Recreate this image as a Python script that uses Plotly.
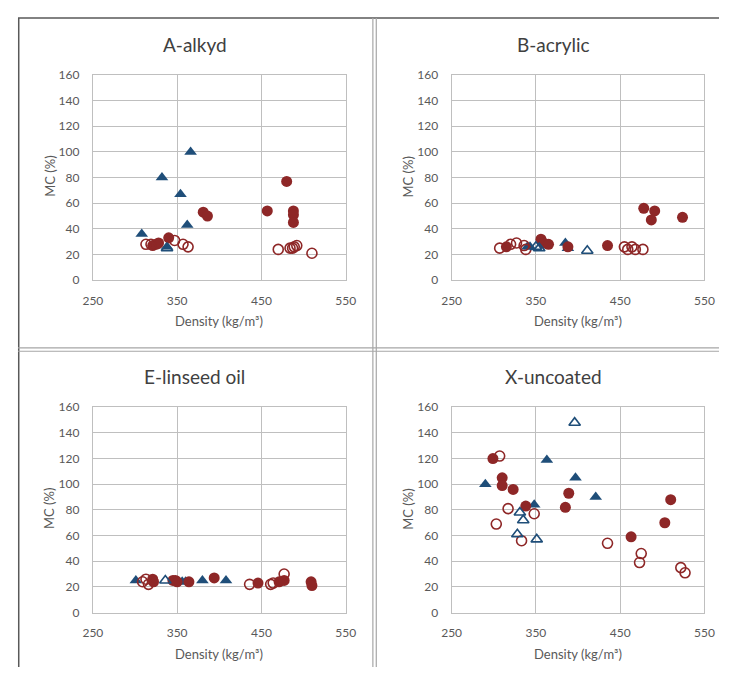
import plotly.graph_objects as go

# The page body has an 8px default margin, so the figure is sized/offset to fit.
OX, OY = 8, 8
W, H = 721, 666

panel_titles = ["A-alkyd", "B-acrylic", "E-linseed oil", "X-uncoated"]
x_ticks = [250, 350, 450, 550]
y_ticks = [0, 20, 40, 60, 80, 100, 120, 140, 160]
x_title = "Density (kg/m³)"
y_title = "MC (%)"

# Panel A - alkyd
A_red_filled_x = [321, 325, 328, 340, 381, 386, 457, 480, 488, 488, 488]
A_red_filled_y = [27, 28, 29, 33, 53, 50, 54, 77, 54, 51, 45]
A_red_open_x = [313, 319, 347, 357, 363, 470, 484, 487, 489, 492, 510]
A_red_open_y = [28, 28, 31, 28, 26, 24, 25, 25, 26, 27, 21]
A_blue_filled_x = [308, 324, 332, 338, 354, 362, 366]
A_blue_filled_y = [36, 27, 80, 26, 67, 43, 100]
A_blue_open_x = [338]
A_blue_open_y = [25]

# Panel B - acrylic
B_red_filled_x = [315, 356, 359, 365, 388, 435, 478, 491, 487, 524]
B_red_filled_y = [26, 32, 29, 28, 26, 27, 56, 54, 47, 49]
B_red_open_x = [307, 320, 327, 336, 338, 455, 459, 464, 468, 477]
B_red_open_y = [25, 28, 29, 27, 24, 26, 24, 26, 24, 24]
B_blue_filled_x = [340, 343, 385, 388]
B_blue_filled_y = [26, 26, 29, 25]
B_blue_open_x = [350, 354, 411]
B_blue_open_y = [26, 25, 23]

# Panel E - linseed oil
E_red_filled_x = [321, 322, 345, 348, 350, 364, 394, 446, 471, 477, 509, 510]
E_red_filled_y = [26, 24, 25, 25, 24, 24, 27, 23, 24, 25, 24, 21]
E_red_open_x = [309, 313, 316, 436, 461, 464, 477]
E_red_open_y = [24, 26, 22, 22, 22, 23, 30]
E_blue_filled_x = [301, 356, 360, 380, 408]
E_blue_filled_y = [25, 24, 24, 25, 25]
E_blue_open_x = [336]
E_blue_open_y = [25]

# Panel X - uncoated
X_red_filled_x = [299, 310, 310, 323, 338, 389, 385, 463, 503, 510]
X_red_filled_y = [120, 105, 99, 96, 83, 93, 82, 59, 70, 88]
X_red_open_x = [307, 317, 303, 348, 333, 435, 475, 473, 522, 527]
X_red_open_y = [122, 81, 69, 77, 56, 54, 46, 39, 35, 31]
X_blue_filled_x = [290, 363, 397, 421, 348]
X_blue_filled_y = [100, 119, 105, 90, 84]
X_blue_open_x = [396, 331, 335, 328, 351]
X_blue_open_y = [148, 78, 72, 61, 57]

panels = [
    (A_red_filled_x, A_red_filled_y, A_red_open_x, A_red_open_y,
     A_blue_filled_x, A_blue_filled_y, A_blue_open_x, A_blue_open_y),
    (B_red_filled_x, B_red_filled_y, B_red_open_x, B_red_open_y,
     B_blue_filled_x, B_blue_filled_y, B_blue_open_x, B_blue_open_y),
    (E_red_filled_x, E_red_filled_y, E_red_open_x, E_red_open_y,
     E_blue_filled_x, E_blue_filled_y, E_blue_open_x, E_blue_open_y),
    (X_red_filled_x, X_red_filled_y, X_red_open_x, X_red_open_y,
     X_blue_filled_x, X_blue_filled_y, X_blue_open_x, X_blue_open_y),
]

RED = "#8E2727"
BLUE = "#1F4E79"
GRID = "#BFBFBF"
TXT = "#595959"
FONT = "Lato, Carlito, 'Open Sans', sans-serif"


def px(x):
    return (x - OX) / W


def py(y):
    return 1 - (y - OY) / H


# plot-area boxes in page pixels (left, right, top, bottom)
boxes = [(85, 345, 68.3, 278.3), (454, 714, 68.3, 278.3),
         (85, 345, 408.3, 618.3), (454, 714, 408.3, 618.3)]
title_pos = [(190, 37), (559, 37), (190, 377), (559, 377)]

fig = go.Figure()
annotations = []
for i, (p, box) in enumerate(zip(panels, boxes)):
    rfx, rfy, rox, roy, bfx, bfy, box_, boy = p
    sfx = "" if i == 0 else str(i + 1)
    xa, ya = "x" + sfx, "y" + sfx
    fig.add_trace(go.Scatter(x=bfx, y=bfy, mode="markers", xaxis=xa, yaxis=ya,
                             marker=dict(symbol="triangle-up", size=11, color=BLUE,
                                         line=dict(width=0)), showlegend=False))
    fig.add_trace(go.Scatter(x=rfx, y=rfy, mode="markers", xaxis=xa, yaxis=ya,
                             marker=dict(symbol="circle", size=11, color=RED,
                                         line=dict(width=0)), showlegend=False))
    fig.add_trace(go.Scatter(x=rox, y=roy, mode="markers", xaxis=xa, yaxis=ya,
                             marker=dict(symbol="circle-open", size=10, color=RED,
                                         line=dict(width=1.6, color=RED)), showlegend=False))
    fig.add_trace(go.Scatter(x=box_, y=boy, mode="markers", xaxis=xa, yaxis=ya,
                             marker=dict(symbol="triangle-up-open", size=10, color=BLUE,
                                         line=dict(width=1.6, color=BLUE)), showlegend=False))
    l, r, t, b = box
    fig.layout["xaxis" + sfx] = dict(
        domain=[px(l), px(r)], anchor=ya, range=[250, 550], tickvals=x_ticks,
        showgrid=True, gridcolor=GRID, gridwidth=1, showline=True, mirror=True,
        linecolor=GRID, linewidth=1, zeroline=False, ticks="",
        ticklabelstandoff=9, tickfont=dict(size=12, color=TXT, family=FONT),
        fixedrange=True)
    fig.layout["yaxis" + sfx] = dict(
        domain=[py(b), py(t)], anchor=xa, range=[0, 160], tickvals=y_ticks,
        showgrid=True, gridcolor=GRID, gridwidth=1, showline=True, mirror=True,
        linecolor=GRID, linewidth=1, zeroline=False, ticks="",
        ticklabelstandoff=10, tickfont=dict(size=12, color=TXT, family=FONT),
        fixedrange=True)
    tx, ty = title_pos[i]
    annotations.append(dict(text=panel_titles[i], x=px(tx), y=py(ty), xref="paper",
                            yref="paper", xanchor="center", yanchor="middle",
                            showarrow=False, font=dict(size=19, color="#404040", family=FONT)))
    annotations.append(dict(text=x_title, x=px((l + r) / 2), y=py(b + 42),
                            xref="paper", yref="paper", xanchor="center", yanchor="middle",
                            showarrow=False, font=dict(size=13, color=TXT, family=FONT)))
    annotations.append(dict(text=y_title, x=px(l - 45), y=py((t + b) / 2 - 1),
                            xref="paper", yref="paper", xanchor="center", yanchor="middle",
                            textangle=-90, showarrow=False,
                            font=dict(size=13, color=TXT, family=FONT)))

SEP = "#A6A6A6"
FRAME = "#595959"
shapes = [
    dict(type="line", xref="paper", yref="paper", x0=px(8), x1=1, y0=py(10), y1=py(10),
         line=dict(color=FRAME, width=1.5)),
    dict(type="line", xref="paper", yref="paper", x0=px(8.75), x1=px(8.75), y0=0, y1=py(10),
         line=dict(color=FRAME, width=1.5)),
]
for sx in (373, 376.5):
    shapes.append(dict(type="line", xref="paper", yref="paper", x0=px(sx), x1=px(sx),
                       y0=0, y1=py(10), line=dict(color=SEP, width=1.2)))
for sy in (347.5, 351):
    shapes.append(dict(type="line", xref="paper", yref="paper", x0=px(8), x1=1,
                       y0=py(sy), y1=py(sy), line=dict(color=SEP, width=1.2)))

fig.update_layout(width=W, height=H, margin=dict(l=0, r=0, t=0, b=0),
                  paper_bgcolor="white", plot_bgcolor="white",
                  annotations=annotations, shapes=shapes, showlegend=False,
                  font=dict(family=FONT, color=TXT))

fig.write_html("out.html", config={"displayModeBar": False})
